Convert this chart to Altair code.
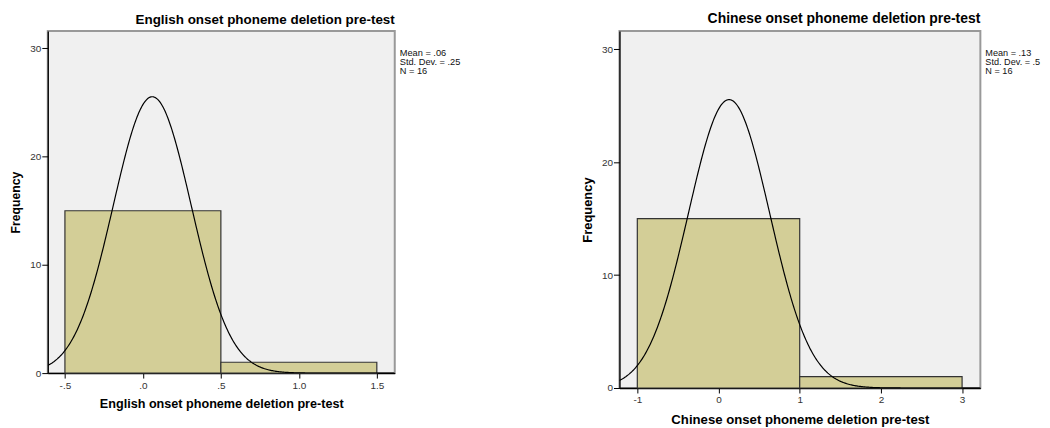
import altair as alt
import pandas as pd

# ---- data ----
en_bin_start = [-0.5, 0.5]
en_bin_end = [0.5, 1.5]
en_count = [15, 1]
en_mean, en_sd, en_n, en_binw = 0.06, 0.25, 16, 1.0
en_stats = ["Mean = .06", "Std. Dev. = .25", "N = 16"]
en_xticks = [-0.5, 0.0, 0.5, 1.0, 1.5]
en_xlabels = ["-.5", ".0", ".5", "1.0", "1.5"]
en_xdomain = [-0.61, 1.615]

zh_bin_start = [-1.0, 1.0]
zh_bin_end = [1.0, 3.0]
zh_count = [15, 1]
zh_mean, zh_sd, zh_n, zh_binw = 0.13, 0.5, 16, 2.0
zh_stats = ["Mean = .13", "Std. Dev. = .5", "N = 16"]
zh_xticks = [-1, 0, 1, 2, 3]
zh_xlabels = ["-1", "0", "1", "2", "3"]
zh_xdomain = [-1.22, 3.225]

yticks = [0, 10, 20, 30]
ydomain = [0, 31.6]

FONT = "Liberation Sans"
BAR_FILL = "#D3CE97"


def label_expr(vals, labels):
    expr = "''"
    for v, l in reversed(list(zip(vals, labels))):
        expr = f"abs(datum.value - ({v})) < 1e-9 ? '{l}' : ({expr})"
    return expr


def panel(title, starts, ends, counts, mean, sd, n, binw, stats, xticks, xlabels,
          xdomain, w, h, fs):
    bars_df = pd.DataFrame({"start": starts, "end": ends, "count": counts})
    xs = alt.Scale(domain=xdomain, nice=False, zero=False)
    ys = alt.Scale(domain=ydomain, nice=False)
    xaxis = alt.Axis(values=xticks, labelExpr=label_expr(xticks, xlabels),
                     title=title, titleFont=FONT, titleFontSize=fs["xtitle"],
                     titleFontWeight="bold", titleColor="#000",
                     titlePadding=fs["xtpad"],
                     labelFont=FONT, labelFontSize=fs["label"], labelColor="#333",
                     tickSize=5, tickColor="#000", domainColor="#000",
                     domainWidth=1.3,
                     labelPadding=2, grid=False, labelFlush=False)
    yaxis = alt.Axis(values=yticks, title="Frequency", titleFont=FONT,
                     titleFontSize=fs["ytitle"], titleFontWeight="bold",
                     titleColor="#000", titlePadding=7, labelFont=FONT,
                     labelFontSize=fs["label"], labelColor="#333", tickSize=6,
                     tickColor="#000", domainColor="#000", domainWidth=1.3,
                     labelPadding=1, grid=False)
    bars = alt.Chart(bars_df).mark_rect(fill=BAR_FILL, stroke="#333333",
                                        strokeWidth=1.2).encode(
        x=alt.X("start:Q", scale=xs, axis=xaxis),
        x2="end:Q",
        y=alt.Y("count:Q", scale=ys, axis=yaxis),
        y2=alt.datum(0),
    )
    peak = n * binw / (sd * (2 * 3.141592653589793) ** 0.5)
    curve = alt.Chart(alt.sequence(xdomain[0], xdomain[1] + 0.001,
                                   (xdomain[1] - xdomain[0]) / 400, as_="v")
                      ).transform_calculate(
        f=f"{peak} * exp(-0.5 * pow((datum.v - ({mean})) / {sd}, 2))"
    ).mark_line(color="#000", strokeWidth=1.2, clip=True).encode(
        x=alt.X("v:Q", scale=xs), y=alt.Y("f:Q", scale=ys)
    )
    txt = alt.Chart(alt.Data(values=[{"k": 0}])).mark_text(
        align="left", baseline="top", font=FONT, fontSize=fs["stats"],
        lineHeight=9, color="#111"
    ).encode(x=alt.value(w + 5), y=alt.value(18), text=alt.value(stats))
    return alt.layer(bars, curve, txt).properties(
        width=w, height=h,
        view=alt.ViewBackground(fill="#F0F0F0", stroke="#999999",
                                strokeWidth=2),
        title=alt.TitleParams(title, anchor="end", frame="group", font=FONT,
                              fontSize=fs["title"], fontWeight="bold",
                              color="#000", offset=5),
    )


left = panel("English onset phoneme deletion pre-test", en_bin_start, en_bin_end,
             en_count, en_mean, en_sd, en_n, en_binw, en_stats, en_xticks,
             en_xlabels, en_xdomain, 349, 344,
             {"xtitle": 12.7, "title": 13.5, "ytitle": 12.3, "label": 10,
              "stats": 9.3, "xtpad": 8})
right = panel("Chinese onset phoneme deletion pre-test", zh_bin_start, zh_bin_end,
              zh_count, zh_mean, zh_sd, zh_n, zh_binw, zh_stats, zh_xticks,
              zh_xlabels, zh_xdomain, 363, 359,
              {"xtitle": 13.25, "title": 14, "ytitle": 13, "label": 10,
               "stats": 9.2, "xtpad": 9})

chart = alt.hconcat(left, right, spacing=118).properties(
    padding={"left": 0, "top": 2, "right": 0, "bottom": -2}
).configure(background="white")

chart.save("out.html", embed_options={"renderer": "svg", "actions": False})
